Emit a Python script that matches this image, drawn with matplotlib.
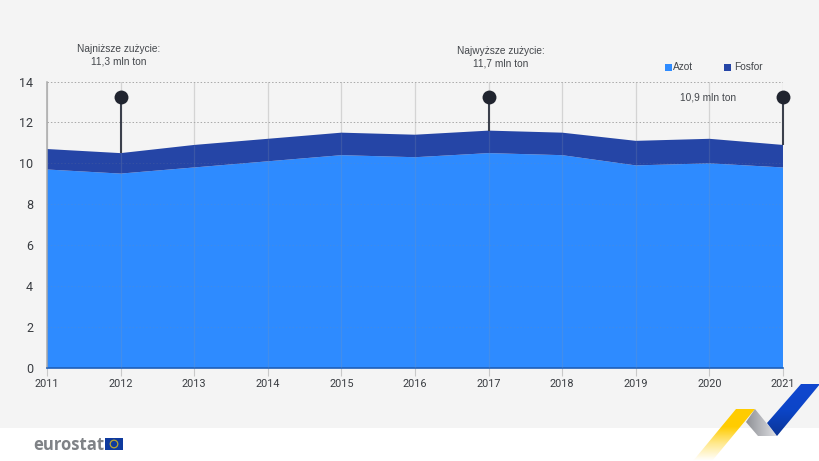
import matplotlib
matplotlib.use("Agg")
import matplotlib.pyplot as plt
import numpy as np
from matplotlib.patches import Polygon, Rectangle, Circle

# Dane (mln ton)
years = [2011, 2012, 2013, 2014, 2015, 2016, 2017, 2018, 2019, 2020, 2021]
azot = [9.7, 9.5, 9.8, 10.1, 10.4, 10.3, 10.5, 10.4, 9.9, 10.0, 9.8]
fosfor = [1.0, 1.0, 1.1, 1.1, 1.1, 1.1, 1.1, 1.1, 1.2, 1.2, 1.1]
y_ticks = [0, 2, 4, 6, 8, 10, 12, 14]
marked_years = [2012, 2017, 2021]
marker_level = 13.25

W, H = 820, 461
BG = "#f4f4f4"
TXT = "#44474c"
TICK = "#3a3d42"
TICK_FONT = "Roboto"
NOTE_FONT = "Liberation Sans"

fig = plt.figure(figsize=(W / 100, H / 100), dpi=100, facecolor="white")

# warstwa tla i logo, w pikselach
bg = fig.add_axes([0, 0, 1, 1])
bg.set_xlim(0, W)
bg.set_ylim(H, 0)
bg.axis("off")
bg.add_patch(Rectangle((0, 0), W, 428, color=BG, lw=0))


def ribbon(points, colors, direction):
    # wstazka z gradientem, obcieta do wielokata
    poly = Polygon(points, closed=True, fc="none", ec="none")
    bg.add_patch(poly)
    xs = [p[0] for p in points]
    ys = [p[1] for p in points]
    cmap = matplotlib.colors.LinearSegmentedColormap.from_list("r", colors)
    grad = np.linspace(0, 1, 64).reshape(-1, 1)
    if direction == "h":
        grad = grad.T
    im = bg.imshow(grad, cmap=cmap, aspect="auto", vmin=0, vmax=1,
                   extent=(min(xs), max(xs), max(ys), min(ys)), zorder=2)
    im.set_clip_path(poly)


ribbon([(736, 409), (755, 409), (712, 461), (693, 461)], ["#ffcc00", "#ffcc00", "#ffe98f", "#ffffff"], "v")
ribbon([(755, 409), (746, 422), (758, 436), (777, 436)], ["#8f9196", "#dfe0e4"], "h")
ribbon([(801, 384), (820, 384), (777, 436), (767, 423)], ["#1147cf", "#0c45c8", "#0b3596"], "v")
bg.set_xlim(0, W)
bg.set_ylim(H, 0)

bg.text(33.5, 444.5, "eurostat", family="Open Sans", fontweight="bold", fontsize=12,
        color="#7f8286", va="center", ha="left")
bg.add_patch(Rectangle((105, 438), 18, 12, color="#0f3a9e", lw=0))
bg.add_patch(Circle((114, 444), 3.8, fc="none", ec="#b9a531", lw=0.9))

# wykres glowny
x0, x1 = 47, 783
y_top, y_bot = 81.5, 368
ax = fig.add_axes([x0 / W, 1 - y_bot / H, (x1 - x0) / W, (y_bot - y_top) / H])
ax.patch.set_alpha(0)
ax.set_xlim(years[0], years[-1])
ax.set_ylim(0, 14)

totals = [a + f for a, f in zip(azot, fosfor)]

ax.set_axisbelow(True)
ax.grid(axis="x", color="#d4d4d4", lw=0.9)
ax.grid(axis="y", color="#a8a8a8", lw=0.7, ls=(0, (1.5, 2)))

ax.stackplot(years, azot, fosfor, colors=["#2e8bff", "#2545a6"], lw=0, zorder=2)
ax.plot(years, [0] * len(years), color="#1f5fb8", lw=1.2, zorder=3, clip_on=False)

# siatka przeswituje lekko przez obszary
ax.vlines(years, 0, totals, color="#8a97a8", alpha=0.22, lw=0.9, zorder=3)
ax.hlines(y_ticks[:6], years[0], years[-1], color="#8d8d8d", alpha=0.16, lw=0.7, ls=(0, (1.5, 2)), zorder=3)

ax.set_xticks(years)
ax.set_xticklabels([str(y) for y in years], family=TICK_FONT, fontsize=7.8, color=TICK)
ax.set_yticks(y_ticks)
ax.set_yticklabels([str(v) for v in y_ticks], family=TICK_FONT, fontsize=9, color=TICK)
ax.tick_params(axis="x", length=6, width=0.8, color="#c9c9c9", pad=2)
ax.tick_params(axis="y", length=0, pad=10)

for side in ["top", "right", "bottom"]:
    ax.spines[side].set_visible(False)
ax.spines["left"].set_color("#a9a9a9")
ax.spines["left"].set_linewidth(1.1)

# znaczniki lat z adnotacjami
for yr in marked_years:
    ax.plot([yr, yr], [totals[years.index(yr)], marker_level], color="#3b404c", lw=1.5,
            zorder=5, clip_on=False, solid_capstyle="butt")
    ax.plot([yr], [marker_level], "o", color="#20242f", ms=10, mec="none", zorder=6, clip_on=False)

# opisy, w pikselach
bg2 = fig.add_axes([0, 0, 1, 1])
bg2.set_xlim(0, W)
bg2.set_ylim(H, 0)
bg2.axis("off")
note = dict(family=NOTE_FONT, fontsize=7.25, color=TXT, ha="center", va="center")
bg2.text(118.5, 49, "Najniższe zużycie:", **note)
bg2.text(118.5, 61, "11,3 mln ton", **note)
bg2.text(501, 51, "Najwyższe zużycie:", **note)
bg2.text(501, 63, "11,7 mln ton", **note)
bg2.text(708.5, 97, "10,9 mln ton", **note)

bg2.add_patch(Rectangle((665.5, 64.5), 6.5, 6.5, color="#2e8bff", lw=0))
bg2.text(673, 66.5, "Azot", family=NOTE_FONT, fontsize=7.25, color=TXT, va="center", ha="left")
bg2.add_patch(Rectangle((724.5, 64.5), 6.5, 6.5, color="#2545a6", lw=0))
bg2.text(734.5, 66.5, "Fosfor", family=NOTE_FONT, fontsize=7.25, color=TXT, va="center", ha="left")

fig.savefig("out.png", dpi=100, facecolor="white")
